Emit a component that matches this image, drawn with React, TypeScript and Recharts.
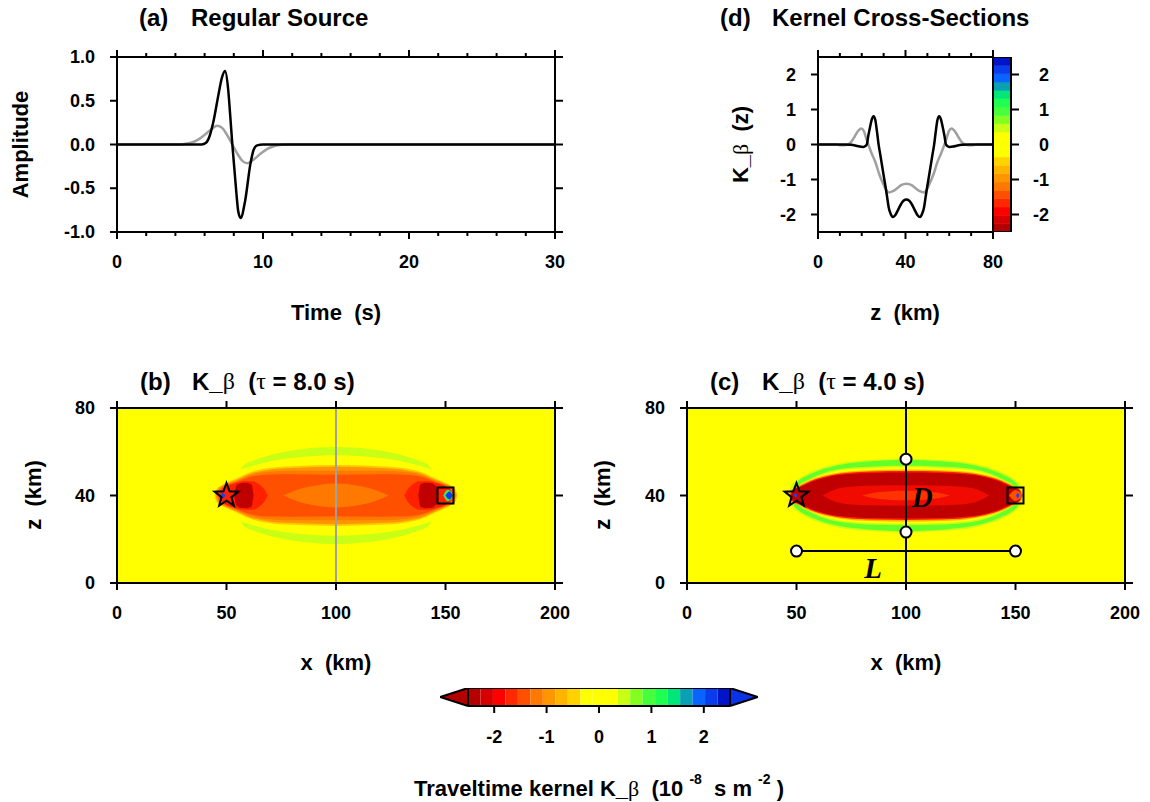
import React from "react";
import {
  ComposedChart,
  Line,
  Area,
  XAxis,
  YAxis,
  ReferenceLine,
  ReferenceDot,
} from "recharts";

const FONT = "'Liberation Sans', Arial, Helvetica, sans-serif";
const SERIF = "'Liberation Serif', 'Times New Roman', serif";
const SP = "\u00a0";

// ---- (a) source time functions ----
const blackTime = [0, 5.8, 6.1, 6.35, 6.6, 6.95, 7.18, 7.4, 7.62, 7.76, 7.9, 8.05, 8.19, 8.3, 8.47, 8.77, 9.13, 9.36, 9.6, 10, 30];
const blackAmp = [0, 0, 0.02, 0.1, 0.26, 0.57, 0.76, 0.84, 0.62, 0.32, 0, -0.3, -0.58, -0.76, -0.84, -0.65, -0.23, -0.06, -0.01, 0, 0];
const grayTime = [0, 4, 4.5, 5, 5.5, 6, 6.5, 6.85, 7.2, 7.5, 7.9, 8.3, 8.6, 8.95, 9.3, 9.8, 10.3, 10.8, 11.3, 11.8, 30];
const grayAmp = [0, 0, 0.004, 0.017, 0.05, 0.11, 0.18, 0.215, 0.19, 0.12, 0, -0.12, -0.19, -0.215, -0.18, -0.11, -0.05, -0.017, -0.004, 0, 0];

// ---- (d) kernel cross-sections at x = 100 km ----
const csBlackZ = [0, 12, 15, 17, 19, 20.5, 21.5, 22.3, 23, 23.8, 24.6, 25.4, 26.2, 27, 27.7, 28.5, 29.2, 30, 30.8, 31.6, 32.3, 33.2, 34.2, 35.2, 36.5, 38, 39.2, 40.4,
  41.6, 42.8, 44.3, 45.6, 46.6, 47.6, 48.5, 49.2, 50, 50.8, 51.6, 52.3, 53.1, 53.8, 54.6, 55.4, 56.2, 57, 57.8, 58.5, 59.3, 60.3, 61.8, 63.8, 65.8, 68.8, 80];
const csBlackK = [0, 0, -0.01, -0.03, -0.06, -0.07, -0.05, 0, 0.25, 0.5, 0.72, 0.81, 0.7, 0.35, 0, -0.3, -0.57, -0.88, -1.18, -1.5, -1.79, -1.98, -2.07, -2.03, -1.88, -1.7, -1.6, -1.57,
  -1.6, -1.7, -1.88, -2.03, -2.07, -1.98, -1.79, -1.5, -1.18, -0.88, -0.57, -0.3, 0, 0.35, 0.7, 0.81, 0.72, 0.5, 0.25, 0, -0.05, -0.07, -0.06, -0.03, -0.01, 0, 0];
const csGrayZ = [0, 8, 10, 12, 13.5, 15, 16.5, 18, 19.7, 21, 22, 23, 24.5, 26.2, 28, 30, 31.2, 32.3, 34, 36, 38, 40.4,
  42.8, 44.8, 46.8, 48.5, 49.6, 50.8, 52.8, 54.6, 56.3, 57.8, 58.8, 59.8, 61.1, 62.8, 64.3, 65.8, 67.3, 68.8, 70.8, 72.8, 80];
const csGrayK = [0, 0, -0.02, -0.02, 0, 0.06, 0.2, 0.36, 0.46, 0.38, 0.18, 0, -0.25, -0.5, -0.85, -1.15, -1.3, -1.37, -1.34, -1.26, -1.16, -1.12,
  -1.16, -1.26, -1.34, -1.37, -1.3, -1.15, -0.85, -0.5, -0.25, 0, 0.18, 0.38, 0.46, 0.36, 0.2, 0.06, 0, -0.02, -0.02, 0, 0];

// ---- colour scale ----
const cptColors = ["#b40000", "#d70000", "#ff0000", "#ff2800", "#ff5000", "#ff7800", "#ff9600", "#ffb400", "#ffd200", "#ffff00", "#ffff00", "#ffff00",
  "#c8ff14", "#82ff1e", "#46ff3c", "#1eff50", "#00e678", "#0aa0b4", "#0a64ff", "#0a3ceb", "#0014c8"];
const cptLow = "#b40000";
const cptHigh = "#0a32e6";
const cbTicks = [-2, -1, 0, 1, 2];

// ---- ticks ----
const timeTicks = [0, 2, 4, 6, 8, 10, 12, 14, 16, 18, 20, 22, 24, 26, 28, 30];
const timeMajors = [0, 10, 20, 30];
const ampTicks = [-1, -0.5, 0, 0.5, 1];
const depthTicks = [0, 10, 20, 30, 40, 50, 60, 70, 80];
const depthMajors = [0, 40, 80];
const kTicks = [-2, -1, 0, 1, 2];
const xTicksK = [0, 50, 100, 150, 200];
const zTicksK = [0, 40, 80];

// ---- kernel bands: half-profiles [x km, half thickness km] about z = 40, left half ----
type Pt = [number, number];
const bandsB: { color: string; half: Pt[] }[] = [
  { color: "#c8ff14", half: [[55, 0], [56.5, 11.5], [58, 14], [62, 15.9], [67.6, 17.8], [76, 19.9], [85, 21.3], [92, 21.9], [100, 22.2]] },
  { color: "#ffff00", half: [[54.5, 0], [56.5, 11.5], [58.5, 12.6], [62, 13.6], [67.6, 15.1], [76, 16.7], [85, 17.7], [92, 18.2], [100, 18.4]] },
  { color: "#ffc800", half: [[44.5, 0], [45.5, 3], [48, 4.8], [50, 5.8], [54, 7.5], [60.8, 10.6], [68, 12.3], [80, 13.4], [100, 13.9]] },
  { color: "#ff9600", half: [[45, 0], [46, 2.8], [48, 4.5], [50, 5.4], [54, 7], [60.8, 10], [68, 11.6], [80, 12.6], [100, 13.1]] },
  { color: "#ff7800", half: [[45.5, 0], [46.5, 2.6], [48, 4.1], [50, 5], [54, 6.5], [60.8, 9.3], [68, 10.7], [80, 11.3], [100, 11.3]] },
  { color: "#ff5000", half: [[46, 0], [47, 2.4], [50, 4.6], [54, 6], [60.8, 8.5], [68, 9.5], [80, 9.7], [100, 9.5]] },
  { color: "#ff2000", half: [[46.5, 0], [47.5, 2.2], [50, 4.2], [54, 5.6], [58, 6.5], [62, 6.5], [65, 5], [67.5, 2.5], [69, 0]] },
  { color: "#c00000", half: [[53.5, 0], [54.5, 4.5], [56.5, 5.6], [59, 5.8], [61.5, 5], [62.5, 0]] },
  { color: "#ff7800", half: [[76, 0], [82, 2.5], [90, 4.5], [100, 5.5]] },
];
const bandsC: { color: string; half: Pt[] }[] = [
  { color: "#c8ff14", half: [[46.5, 0], [47.5, 4.5], [50, 7], [55, 10], [62, 12.8], [70, 14.8], [80, 16], [90, 16.6], [100, 16.9]] },
  { color: "#64ff28", half: [[47.5, 0], [48.8, 4.5], [51, 6.8], [56, 9.6], [63, 12.3], [71, 14.2], [81, 15.4], [90, 16], [100, 16.3]] },
  { color: "#c8ff14", half: [[49.5, 0], [51, 4.5], [55, 7], [61, 9.8], [68, 11.8], [77, 12.9], [88, 13.4], [100, 13.6]] },
  { color: "#ffff00", half: [[50, 0], [51.5, 4.3], [55.5, 6.6], [61.5, 9.3], [68.5, 11.2], [77.5, 12.2], [88, 12.7], [100, 12.9]] },
  { color: "#ffb400", half: [[46.5, 0], [47.5, 2.5], [51, 4.6], [56, 7], [63, 9.3], [72, 10.8], [84, 11.6], [100, 11.9]] },
  { color: "#ff1e00", half: [[47, 0], [48, 2.5], [51.5, 4.2], [56.5, 6.6], [63.5, 8.8], [72.5, 10.3], [84, 11], [100, 11.2]] },
  { color: "#c00000", half: [[47.5, 0], [48.5, 2.5], [52, 4], [57, 6.3], [64, 8.4], [73, 9.7], [85, 10.3], [100, 10.5]] },
  { color: "#f00a00", half: [[62, 0], [66, 2.2], [72, 3.8], [82, 4.5], [100, 4.7]] },
  { color: "#ff3200", half: [[80, 0], [86, 1.4], [93, 2], [100, 2.2]] },
];
// small features near source and receiver (not mirrored)
const spotsB: { color: string; pts: Pt[] }[] = [
  { color: "#1446ff", pts: [[47.3, 0], [48.3, 1.3], [49.5, 0]] },
  { color: "#46e650", pts: [[149, 0], [151, 2.6], [154, 0]] },
  { color: "#0a3cf0", pts: [[150, 0], [151.8, 1.8], [153.3, 0]] },
];
const spotsC: { color: string; pts: Pt[] }[] = [
  { color: "#1446ff", pts: [[48.8, 0], [49.6, 0.9], [50.4, 0]] },
  { color: "#ff5000", pts: [[147, 0], [150, 2.5], [153.5, 0]] },
  { color: "#1446ff", pts: [[150.3, 0], [151, 1.2], [151.8, 0]] },
];

const sourceXZ = { x: 50, z: 40 };
const receiverXZ = { x: 150, z: 40 };
const circlesC = [{ x: 50, z: 14.6 }, { x: 150, z: 14.6 }, { x: 100, z: 56.6 }, { x: 100, z: 23.3 }];
const lineL = [{ x: 50, z: 14.6 }, { x: 150, z: 14.6 }];
const lettersC = [{ x: 107.4, z: 39.5, t: "D" }, { x: 85, z: 6.9, t: "L" }];

const mirror = (half: Pt[]): Pt[] => {
  const right = half.filter(([x]) => x < 100).map(([x, h]) => [200 - x, h] as Pt).reverse();
  return [...half, ...right];
};
const toRange = (pts: Pt[]) => pts.map(([x, h]) => ({ x, r: [40 - h, 40 + h] }));

// tick labels only; tick marks and the frame are drawn with reference elements
type Side = "bottom" | "left" | "right";
function labelTick(side: Side, majors: number[], off: number, fmt: (v: number) => string = (v) => String(v)) {
  return (p: any) => {
    const x = Number(p.x);
    const y = Number(p.y);
    const v = Number(p.payload?.value);
    if (!majors.some((m) => Math.abs(m - v) < 1e-6)) return <g />;
    const tp = { fontFamily: FONT, fontWeight: 700, fontSize: 18, fill: "#000", dominantBaseline: "central" as const };
    if (side === "bottom") return <text x={x} y={y + off} textAnchor="middle" {...tp}>{fmt(v)}</text>;
    if (side === "left") return <text x={x - off} y={y} textAnchor="end" {...tp}>{fmt(v)}</text>;
    return <text x={x + off} y={y} textAnchor="end" {...tp}>{fmt(v)}</text>;
  };
}

const tickShape = (dx: number, dy: number) => (p: any) => (
  <line x1={p.cx} y1={p.cy} x2={p.cx + dx} y2={p.cy + dy} stroke="#000" strokeWidth={2} />
);

function frameMarks(
  xId: string, yId: string, xd: [number, number], yd: [number, number],
  o: { xTicks: number[]; xMajors: number[]; yTicks: number[]; yMajors: number[]; sides: string; box?: boolean },
) {
  const els: React.ReactNode[] = [];
  const common = { xAxisId: xId, yAxisId: yId, ifOverflow: "visible" as const };
  if (o.box !== false) {
    els.push(<ReferenceLine key="f1" {...common} x={xd[0]} stroke="#000" strokeWidth={2} />);
    els.push(<ReferenceLine key="f2" {...common} x={xd[1]} stroke="#000" strokeWidth={2} />);
    els.push(<ReferenceLine key="f3" {...common} y={yd[0]} stroke="#000" strokeWidth={2} />);
    els.push(<ReferenceLine key="f4" {...common} y={yd[1]} stroke="#000" strokeWidth={2} />);
  }
  const isMaj = (list: number[], v: number) => list.some((m) => Math.abs(m - v) < 1e-6);
  o.xTicks.forEach((t) => {
    const len = isMaj(o.xMajors, t) ? 7 : 4;
    if (o.sides.includes("b"))
      els.push(<ReferenceDot key={"tb" + t} {...common} x={t} y={yd[0]} r={1} shape={tickShape(0, len)} />);
    if (o.sides.includes("t"))
      els.push(<ReferenceDot key={"tt" + t} {...common} x={t} y={yd[1]} r={1} shape={tickShape(0, -len)} />);
  });
  o.yTicks.forEach((t) => {
    const len = isMaj(o.yMajors, t) ? 7 : 4;
    if (o.sides.includes("l"))
      els.push(<ReferenceDot key={"tl" + t} {...common} x={xd[0]} y={t} r={1} shape={tickShape(-len, 0)} />);
    if (o.sides.includes("r"))
      els.push(<ReferenceDot key={"tr" + t} {...common} x={xd[1]} y={t} r={1} shape={tickShape(len + 1, 0)} />);
  });
  return els;
}

function starPoints(cx: number, cy: number, R: number, r: number) {
  const pts: string[] = [];
  for (let i = 0; i < 10; i++) {
    const a = -Math.PI / 2 + (i * Math.PI) / 5;
    const rad = i % 2 === 0 ? R : r;
    pts.push(`${cx + rad * Math.cos(a)},${cy + rad * Math.sin(a)}`);
  }
  return pts.join(" ");
}

const axisBase = { tickSize: 0, tickMargin: 0, tickLine: false, interval: 0 as const, axisLine: false };

function KernelChart({ leftW, bands, spots, vColor, annotate }: {
  leftW: number;
  bands: { color: string; half: Pt[] }[];
  spots: { color: string; pts: Pt[] }[];
  vColor: string;
  annotate: boolean;
}) {
  const bg = toRange([[0, 40], [200, 40]]);
  return (
    <ComposedChart width={leftW + 438 + 25} height={58 + 175 + 90} margin={{ top: 58, right: 25, bottom: 0, left: 0 }}>
      <XAxis xAxisId="b" dataKey="x" type="number" domain={[0, 200]} ticks={xTicksK} height={90} {...axisBase}
        tick={labelTick("bottom", xTicksK, 30)} />
      <YAxis yAxisId="l" type="number" domain={[0, 80]} ticks={zTicksK} width={leftW} {...axisBase}
        tick={labelTick("left", zTicksK, 22)} />
      <Area xAxisId="b" yAxisId="l" data={bg} dataKey="r" type="linear" stroke="none" fill="#ffff00" fillOpacity={1}
        dot={false} activeDot={false} isAnimationActive={false} />
      {bands.map((b, i) => (
        <Area key={"b" + i} xAxisId="b" yAxisId="l" data={toRange(mirror(b.half))} dataKey="r" type="monotone" stroke="none"
          fill={b.color} fillOpacity={1} dot={false} activeDot={false} isAnimationActive={false} />
      ))}
      {spots.map((s, i) => (
        <Area key={"s" + i} xAxisId="b" yAxisId="l" data={toRange(s.pts)} dataKey="r" type="monotone" stroke="none"
          fill={s.color} fillOpacity={1} dot={false} activeDot={false} isAnimationActive={false} />
      ))}
      <ReferenceLine xAxisId="b" yAxisId="l" x={100} stroke={vColor} strokeWidth={2} />
      {annotate && (
        <ReferenceLine xAxisId="b" yAxisId="l" segment={lineL.map((p) => ({ x: p.x, y: p.z }))} stroke="#000" strokeWidth={2} />
      )}
      {frameMarks("b", "l", [0, 200], [0, 80], { xTicks: xTicksK, xMajors: xTicksK, yTicks: zTicksK, yMajors: zTicksK, sides: "btlr" })}
      <ReferenceDot xAxisId="b" yAxisId="l" x={sourceXZ.x} y={sourceXZ.z} r={12}
        shape={(p: any) => <polygon points={starPoints(p.cx, p.cy, 12.5, 5.2)} fill="none" stroke="#000" strokeWidth={2} />} />
      <ReferenceDot xAxisId="b" yAxisId="l" x={receiverXZ.x} y={receiverXZ.z} r={8}
        shape={(p: any) => <rect x={p.cx - 8} y={p.cy - 8} width={16} height={16} fill="none" stroke="#000" strokeWidth={2} />} />
      {annotate && circlesC.map((c, i) => (
        <ReferenceDot key={"c" + i} xAxisId="b" yAxisId="l" x={c.x} y={c.z} r={5.5} fill="#fff" stroke="#000" strokeWidth={2} />
      ))}
      {annotate && lettersC.map((l, i) => (
        <ReferenceDot key={"t" + i} xAxisId="b" yAxisId="l" x={l.x} y={l.z} r={1}
          shape={(p: any) => (
            <text x={p.cx} y={p.cy} textAnchor="middle" dominantBaseline="central" fontFamily={SERIF}
              fontStyle="italic" fontWeight={700} fontSize={29} fill="#000">{l.t}</text>
          )} />
      ))}
    </ComposedChart>
  );
}

const cbStep = 5 / cptColors.length;
const cbCells = cptColors.map((c, i) => ({ color: c, lo: -2.5 + i * cbStep, hi: -2.5 + (i + 1) * cbStep }));
const areaBase = { type: "linear" as const, fillOpacity: 1, dot: false, activeDot: false, isAnimationActive: false };

function HorizontalBar() {
  return (
    <ComposedChart width={318} height={80} margin={{ top: 0, right: 0, bottom: 0, left: 0 }}>
      <XAxis xAxisId="b" dataKey="x" type="number" domain={[-3.034, 3.034]} ticks={cbTicks} height={62} {...axisBase}
        tick={labelTick("bottom", cbTicks, 31)} />
      <YAxis yAxisId="l" type="number" domain={[0, 1]} hide />
      {cbCells.map((c, i) => (
        <Area key={i} xAxisId="b" yAxisId="l" data={[{ x: c.lo, r: [0, 1] }, { x: c.hi, r: [0, 1] }]} dataKey="r"
          fill={c.color} stroke={c.color} strokeWidth={0.6} {...areaBase} />
      ))}
      <Area xAxisId="b" yAxisId="l" data={[{ x: -3.034, r: [0.5, 0.5] }, { x: -2.5, r: [0, 1] }]} dataKey="r"
        fill={cptLow} stroke="#000" strokeWidth={2} {...areaBase} />
      <Area xAxisId="b" yAxisId="l" data={[{ x: 2.5, r: [0, 1] }, { x: 3.034, r: [0.5, 0.5] }]} dataKey="r"
        fill={cptHigh} stroke="#000" strokeWidth={2} {...areaBase} />
      <ReferenceLine xAxisId="b" yAxisId="l" ifOverflow="visible" segment={[{ x: -2.5, y: 0 }, { x: 2.5, y: 0 }]} stroke="#000" strokeWidth={2} />
      <ReferenceLine xAxisId="b" yAxisId="l" ifOverflow="visible" segment={[{ x: -2.5, y: 1 }, { x: 2.5, y: 1 }]} stroke="#000" strokeWidth={2} />
      <ReferenceLine xAxisId="b" yAxisId="l" ifOverflow="visible" x={-2.5} stroke="#000" strokeWidth={2} />
      <ReferenceLine xAxisId="b" yAxisId="l" ifOverflow="visible" x={2.5} stroke="#000" strokeWidth={2} />
      {frameMarks("b", "l", [-2.5, 2.5], [0, 1], { xTicks: cbTicks, xMajors: cbTicks, yTicks: [], yMajors: [], sides: "b", box: false })}
    </ComposedChart>
  );
}

function VerticalBar() {
  return (
    <ComposedChart width={18 + 60} height={175} margin={{ top: 0, right: 0, bottom: 0, left: 0 }}>
      <XAxis xAxisId="b" dataKey="x" type="number" domain={[0, 1]} hide />
      <YAxis yAxisId="r" orientation="right" type="number" domain={[-2.5, 2.5]} ticks={cbTicks} width={60} {...axisBase}
        tick={labelTick("right", cbTicks, 38)} />
      {cbCells.map((c, i) => (
        <Area key={i} xAxisId="b" yAxisId="r" data={[{ x: 0, r: [c.lo, c.hi] }, { x: 1, r: [c.lo, c.hi] }]} dataKey="r"
          fill={c.color} stroke={c.color} strokeWidth={0.6} {...areaBase} />
      ))}
      {frameMarks("b", "r", [0, 1], [-2.5, 2.5], { xTicks: [], xMajors: [], yTicks: cbTicks, yMajors: cbTicks, sides: "r" })}
    </ComposedChart>
  );
}

export default function App() {
  const blackData = blackTime.map((t, i) => ({ x: t, y: blackAmp[i] }));
  const grayData = grayTime.map((t, i) => ({ x: t, y: grayAmp[i] }));
  const csBlack = csBlackZ.map((z, i) => ({ x: z, y: csBlackK[i] }));
  const csGray = csGrayZ.map((z, i) => ({ x: z, y: csGrayK[i] }));

  const tl = { fontFamily: FONT, fontWeight: 700, fill: "#000", dominantBaseline: "central" as const };
  const sym = { fontFamily: SERIF, fontWeight: 400 };

  return (
    <div style={{ position: "absolute", left: 0, top: 0, width: 1150, height: 802, background: "#fff", fontFamily: FONT }}>
      {/* (a) */}
      <div style={{ position: "absolute", left: 0, top: 0 }}>
        <ComposedChart width={580} height={330} margin={{ top: 57, right: 25, bottom: 0, left: 0 }}>
          <XAxis xAxisId="b" dataKey="x" type="number" domain={[0, 30]} ticks={timeTicks} height={98} {...axisBase}
            tick={labelTick("bottom", timeMajors, 30)} />
          <YAxis yAxisId="l" type="number" domain={[-1, 1]} ticks={ampTicks} width={117} {...axisBase}
            tick={labelTick("left", ampTicks, 22, (v) => v.toFixed(1))} />
          <Line xAxisId="b" yAxisId="l" data={grayData} dataKey="y" type="monotone" stroke="#a0a0a0" strokeWidth={2.5}
            dot={false} activeDot={false} isAnimationActive={false} />
          <Line xAxisId="b" yAxisId="l" data={blackData} dataKey="y" type="monotone" stroke="#000" strokeWidth={2.5}
            dot={false} activeDot={false} isAnimationActive={false} />
          {frameMarks("b", "l", [0, 30], [-1, 1], { xTicks: timeTicks, xMajors: timeMajors, yTicks: ampTicks, yMajors: ampTicks, sides: "btlr" })}
        </ComposedChart>
      </div>

      {/* (d) */}
      <div style={{ position: "absolute", left: 700, top: 0 }}>
        <ComposedChart width={118 + 175 + 30} height={330} margin={{ top: 57, right: 30, bottom: 0, left: 0 }}>
          <XAxis xAxisId="b" dataKey="x" type="number" domain={[0, 80]} ticks={depthTicks} height={98} {...axisBase}
            tick={labelTick("bottom", depthMajors, 30)} />
          <YAxis yAxisId="l" type="number" domain={[-2.5, 2.5]} ticks={kTicks} width={118} {...axisBase}
            tick={labelTick("left", kTicks, 22)} />
          <Line xAxisId="b" yAxisId="l" data={csGray} dataKey="y" type="monotone" stroke="#a0a0a0" strokeWidth={2.5}
            dot={false} activeDot={false} isAnimationActive={false} />
          <Line xAxisId="b" yAxisId="l" data={csBlack} dataKey="y" type="monotone" stroke="#000" strokeWidth={2.5}
            dot={false} activeDot={false} isAnimationActive={false} />
          {frameMarks("b", "l", [0, 80], [-2.5, 2.5], { xTicks: depthTicks, xMajors: depthMajors, yTicks: kTicks, yMajors: kTicks, sides: "btl" })}
        </ComposedChart>
      </div>
      <div style={{ position: "absolute", left: 993, top: 57 }}>
        <VerticalBar />
      </div>

      {/* (b) */}
      <div style={{ position: "absolute", left: 0, top: 350 }}>
        <KernelChart leftW={117} bands={bandsB} spots={spotsB} vColor="#a0a0a0" annotate={false} />
      </div>
      {/* (c) */}
      <div style={{ position: "absolute", left: 600, top: 350 }}>
        <KernelChart leftW={87} bands={bandsC} spots={spotsC} vColor="#000" annotate={true} />
      </div>

      {/* colour bar */}
      <div style={{ position: "absolute", left: 440, top: 688 }}>
        <HorizontalBar />
      </div>

      {/* titles and labels */}
      <svg width={1150} height={802} style={{ position: "absolute", left: 0, top: 0, pointerEvents: "none" }}>
        <g {...tl} fontSize={24}>
          <text x={139} y={17}>(a)</text>
          <text x={191} y={17}>Regular Source</text>
          <text x={720} y={17}>(d)</text>
          <text x={772} y={17}>Kernel Cross-Sections</text>
          <text x={140} y={381}>(b)</text>
          <text x={192} y={381}>K_<tspan {...sym}>β</tspan>{SP + SP}(<tspan {...sym}>τ</tspan>{SP}={SP}8.0{SP}s)</text>
          <text x={710} y={381}>(c)</text>
          <text x={762} y={381}>K_<tspan {...sym}>β</tspan>{SP + SP}(<tspan {...sym}>τ</tspan>{SP}={SP}4.0{SP}s)</text>
        </g>
        <g {...tl} fontSize={22} textAnchor="middle">
          <text x={20} y={144.5} transform="rotate(-90 20 144.5)">Amplitude</text>
          <text x={336} y={312}>{"Time" + SP + SP + "(s)"}</text>
          <text x={740} y={144.5} transform="rotate(-90 740 144.5)">K_<tspan {...sym}>β</tspan>{SP + SP + "(z)"}</text>
          <text x={905} y={312}>{"z" + SP + SP + "(km)"}</text>
          <text x={33} y={495} transform="rotate(-90 33 495)">{"z" + SP + SP + "(km)"}</text>
          <text x={336} y={662}>{"x" + SP + SP + "(km)"}</text>
          <text x={602} y={495} transform="rotate(-90 602 495)">{"z" + SP + SP + "(km)"}</text>
          <text x={906} y={662}>{"x" + SP + SP + "(km)"}</text>
          <text x={599} y={788}>
            {"Traveltime kernel K_"}<tspan {...sym}>β</tspan>{SP + SP + "(10" + SP}<tspan fontSize={14} dy={-9}>-8</tspan>
            <tspan dy={9}>{SP + SP + "s" + SP + "m" + SP}</tspan><tspan fontSize={14} dy={-9}>-2</tspan><tspan dy={9}>{SP + ")"}</tspan>
          </text>
        </g>
      </svg>
    </div>
  );
}
